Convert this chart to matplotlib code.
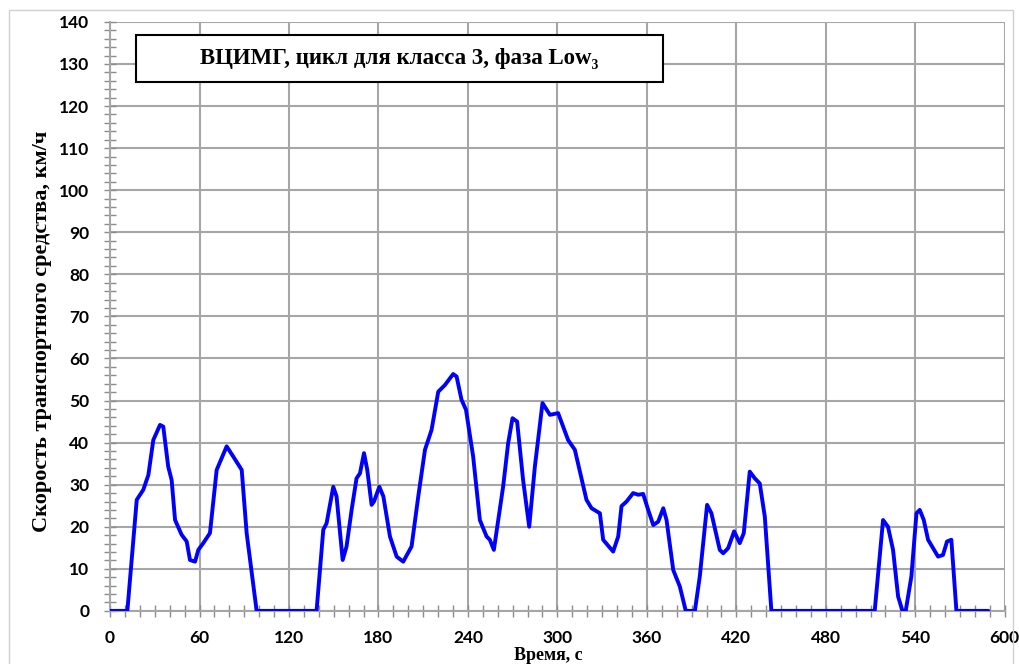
import matplotlib

matplotlib.use("Agg")
import matplotlib.pyplot as plt
from matplotlib.patches import Rectangle
from matplotlib.ticker import MultipleLocator

# speed profile (time in s, speed in km/h)
time_s = [0, 11.6, 17.9, 22.3, 25.7, 29, 33.5, 35.7, 39, 41.3, 43.6, 48, 51.4,
          53.6, 57, 59.2, 62.5, 67, 71.5, 78.2, 82.6, 88.3, 91.6, 98.3, 138.5,
          143, 145.2, 149.7, 151.9, 156, 158.6, 162, 165.3, 167.6, 170.3, 172.5,
          175.4, 177, 180.6, 183.3, 187.7, 192.2, 196.6, 202.2, 206.7, 211.2,
          215.6, 220.1, 224.6, 230.1, 232.4, 235.7, 238.7, 243.5, 248, 252.5,
          254.7, 257.4, 263.6, 267, 269.9, 273, 277, 281.1, 284.9, 290, 295,
          300.5, 307.2, 311.7, 319.5, 322.9, 328.5, 330.7, 337.4, 340.8, 343,
          346.4, 350.8, 354.2, 357.5, 360.9, 364.3, 367.6, 371, 373.2, 377.7,
          382.1, 386.1, 392.2, 395.5, 400.4, 403.3, 408.9, 411.2, 414.5, 418.5,
          422.3, 425, 429, 432.4, 435.7, 439.1, 443.5, 512.8, 518.4, 521.7,
          525.1, 528.5, 531.4, 533.6, 537.4, 540.8, 543, 545.7, 548.6, 555.3,
          558.6, 561.3, 564.2, 567.6, 589]
speed_kmh = [0, 0, 26.4, 28.8, 32.3, 40.6, 44.2, 43.8, 34.3, 31.1, 21.6, 18.1,
             16.5, 12.1, 11.7, 14.5, 16.1, 18.5, 33.5, 39.1, 36.7, 33.5, 18.5, 0,
             0, 19.3, 20.8, 29.5, 27.2, 12.1, 15.3, 24, 31.5, 32.7, 37.5, 33.5,
             25.2, 26, 29.5, 27.2, 17.7, 12.9, 11.7, 15.3, 27.2, 38.3, 43, 52.1,
             53.7, 56.3, 55.7, 50.2, 47.8, 36.7, 21.6, 17.7, 16.9, 14.5, 29.5,
             39.9, 45.8, 45, 31.1, 20, 34.3, 49.4, 46.6, 47, 40.6, 38.3, 26.4,
             24.4, 23.2, 16.9, 14.1, 17.7, 24.9, 26, 28, 27.6, 27.8, 24, 20.4,
             21.2, 24.4, 21.6, 9.7, 5.8, 0, 0, 8.2, 25.2, 23.2, 14.5, 13.7, 14.9,
             18.9, 16.1, 18.5, 33.1, 31.5, 30.3, 22.4, 0, 0, 21.6, 20, 14.5, 3.4,
             0, 0, 8.2, 23.2, 24, 21.6, 16.9, 12.9, 13.3, 16.5, 16.9, 0, 0]

title = "ВЦИМГ, цикл для класса 3, фаза Low\u2083"
xlabel = "Время, с"
ylabel = "Скорость транспортного средства, км/ч"

serif = ["Liberation Serif", "DejaVu Serif"]
ticks_font = ["Lato", "DejaVu Sans"]

fig = plt.figure(figsize=(10.19, 6.64), dpi=100)
ax = fig.add_axes([0.108, 0.080, 0.878, 0.887])

# light outer chart-area frame
fig.patches.append(Rectangle((0.009, -0.05), 0.985, 1.035, transform=fig.transFigure,
                             fill=False, edgecolor="#d0d0d0", linewidth=1.0))

ax.plot(time_s, speed_kmh, color="#0000ff", linewidth=2.8,
        solid_joinstyle="round", solid_capstyle="round", zorder=3)

ax.set_xlim(0, 600)
ax.set_ylim(0, 140)
ax.xaxis.set_major_locator(MultipleLocator(60))
ax.xaxis.set_minor_locator(MultipleLocator(10))
ax.yaxis.set_major_locator(MultipleLocator(10))
ax.yaxis.set_minor_locator(MultipleLocator(2))
ax.grid(True, which="major", color="#a6a6a6", linewidth=1.5)
ax.set_axisbelow(True)

for side in ("top", "right"):
    ax.spines[side].set_visible(False)
for side in ("left", "bottom"):
    ax.spines[side].set_color("#a6a6a6")
    ax.spines[side].set_linewidth(1.5)

ax.tick_params(which="both", direction="inout", color="#8c8c8c", width=1.0)
ax.tick_params(which="major", length=8, pad=11)
ax.tick_params(axis="x", which="major", pad=9.5)
ax.tick_params(which="minor", length=8)
for lab in ax.get_xticklabels() + ax.get_yticklabels():
    lab.set_fontfamily(ticks_font)
    lab.set_fontweight("bold")
    lab.set_fontsize(12.5)

ax.set_xlabel(xlabel, fontfamily=serif, fontweight="bold", fontsize=13)
ax.xaxis.set_label_coords(0.49, -0.062)
ax.set_ylabel(ylabel, fontfamily=serif, fontweight="bold", fontsize=16)
ax.yaxis.set_label_coords(-0.065, 0.475)

ax.text(194, 131.3, title, ha="center", va="center", fontfamily=serif,
        fontweight="bold", fontsize=16.5, zorder=5)
ax.add_patch(Rectangle((17.4, 125.7), 353.3, 11.2, facecolor="white",
                       edgecolor="black", linewidth=1.5, zorder=4))

fig.savefig("out.png", dpi=100)
